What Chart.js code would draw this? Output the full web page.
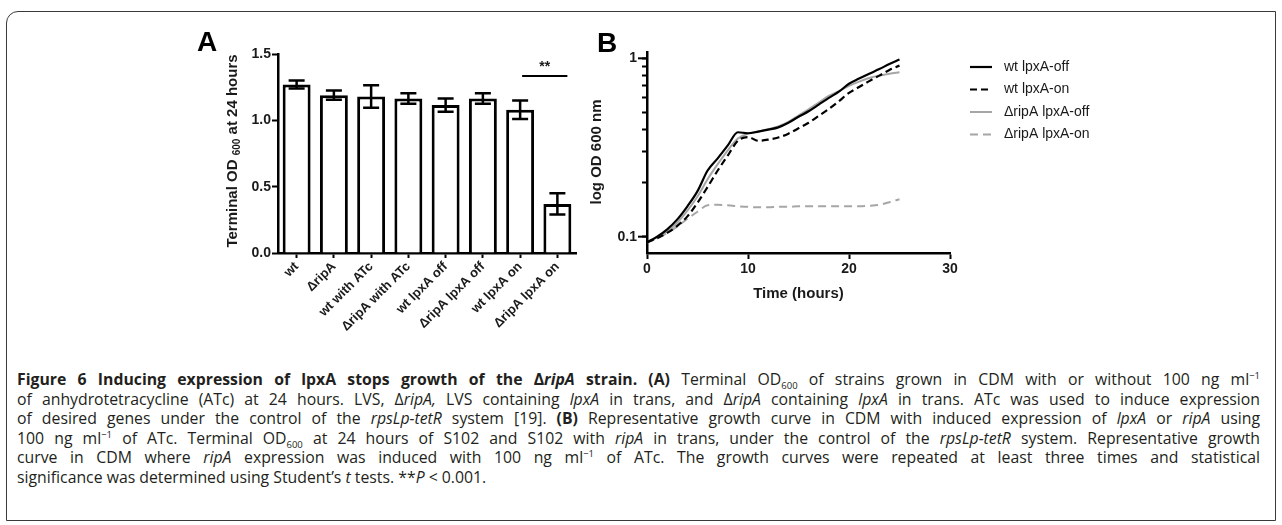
<!DOCTYPE html>
<html>
<head>
<meta charset="utf-8">
<script src="https://cdn.jsdelivr.net/npm/chart.js@4.4.1/dist/chart.umd.min.js"></script>
<style>
  html, body { margin: 0; padding: 0; background: #fff; }
  body { width: 1282px; height: 525px; position: relative; overflow: hidden; font-family: "Liberation Sans", Arial, sans-serif; }
  #frame { position: absolute; left: 6px; top: 11px; width: 1268px; height: 508px; border: 1.5px solid #3a3a3a; border-top-left-radius: 12px; }
  #boxA { position: absolute; left: 150px; top: 20px; width: 450px; height: 330px; }
  #boxB { position: absolute; left: 560px; top: 20px; width: 570px; height: 283px; }
  #caption { position: absolute; left: 17px; top: 370px; width: 1243px; font-family: "Open Sans", "Noto Sans", sans-serif; font-size: 15.8px; line-height: 19.5px; color: #231f20; }
  #caption div { white-space: nowrap; text-align: justify; text-align-last: justify; }
  #caption div.last { text-align-last: left; }
  #caption sup, #caption sub { font-size: 9.5px; line-height: 0; }
</style>
</head>
<body>
<div id="frame"></div>
<div id="boxA"><canvas id="chartA" width="450" height="330"></canvas></div>
<div id="boxB"><canvas id="chartB" width="570" height="283"></canvas></div>
<div id="caption">
  <div><b>Figure 6 Inducing expression of lpxA stops growth of the Δ<i>ripA</i> strain. (A)</b> Terminal OD<sub>600</sub> of strains grown in CDM with or without 100 ng ml<sup>−1</sup></div>
  <div>of anhydrotetracycline (ATc) at 24 hours. LVS, Δ<i>ripA,</i> LVS containing <i>lpxA</i> in trans, and Δ<i>ripA</i> containing <i>lpxA</i> in trans. ATc was used to induce expression</div>
  <div>of desired genes under the control of the <i>rpsLp-tetR</i> system [19]. <b>(B)</b> Representative growth curve in CDM with induced expression of <i>lpxA</i> or <i>ripA</i> using</div>
  <div>100 ng ml<sup>−1</sup> of ATc. Terminal OD<sub>600</sub> at 24 hours of S102 and S102 with <i>ripA</i> in trans, under the control of the <i>rpsLp-tetR</i> system. Representative growth</div>
  <div>curve in CDM where <i>ripA</i> expression was induced with 100 ng ml<sup>−1</sup> of ATc. The growth curves were repeated at least three times and statistical</div>
  <div class="last">significance was determined using Student’s <i>t</i> tests. **<i>P</i> &lt; 0.001.</div>
</div>
<script>
// panel A - terminal OD600 at 24 h
const strains = ['wt', 'ΔripA', 'wt with ATc', 'ΔripA with ATc', 'wt lpxA off', 'ΔripA lpxA off', 'wt lpxA on', 'ΔripA lpxA on'];
const odMeans = [1.27, 1.19, 1.18, 1.165, 1.115, 1.165, 1.08, 0.37];
const odErrors = [0.03, 0.035, 0.085, 0.04, 0.05, 0.04, 0.07, 0.08];
const odTicks = [0, 0.5, 1.0, 1.5];

// panel B - growth curves (log OD 600)
const hours = [0, 1, 2, 3, 4, 5, 6, 7, 8, 9, 10, 11, 12, 13, 14, 15, 16, 17, 18, 19, 20, 21, 22, 23, 24, 25];
const wtOff = [0.093, 0.100, 0.110, 0.125, 0.148, 0.180, 0.235, 0.275, 0.325, 0.385, 0.380, 0.388, 0.398, 0.410, 0.435, 0.470, 0.505, 0.550, 0.600, 0.650, 0.720, 0.770, 0.820, 0.870, 0.930, 0.985];
const wtOn = [0.093, 0.098, 0.105, 0.115, 0.130, 0.155, 0.190, 0.235, 0.285, 0.345, 0.362, 0.345, 0.350, 0.360, 0.378, 0.405, 0.435, 0.475, 0.520, 0.575, 0.640, 0.690, 0.745, 0.800, 0.860, 0.910];
const ripOff = [0.093, 0.099, 0.107, 0.120, 0.140, 0.168, 0.210, 0.255, 0.305, 0.355, 0.378, 0.388, 0.400, 0.415, 0.440, 0.478, 0.518, 0.565, 0.615, 0.655, 0.700, 0.740, 0.775, 0.800, 0.820, 0.835];
const ripOn = [0.093, 0.098, 0.105, 0.114, 0.126, 0.138, 0.150, 0.151, 0.150, 0.148, 0.147, 0.146, 0.146, 0.147, 0.147, 0.148, 0.148, 0.148, 0.148, 0.148, 0.148, 0.148, 0.149, 0.151, 0.156, 0.162];
const curveNames = ['wt lpxA-off', 'wt lpxA-on', 'ΔripA lpxA-off', 'ΔripA lpxA-on'];
const timeTicks = [0, 10, 20, 30];
const logTicks = [0.1, 0.2, 0.3, 0.4, 0.5, 0.6, 0.7, 0.8, 0.9, 1];

const FONT = '"Liberation Sans", Arial, sans-serif';
Chart.defaults.font.family = FONT;
Chart.defaults.color = '#1a1a1a';
Chart.defaults.animation = false;

function pts(ys) {
    return hours.map((h, i) => ({ x: h, y: ys[i] }));
}

// rotated y title, with optional subscript part
function drawYTitle(ctx, x, y, parts) {
    ctx.save();
    ctx.translate(x, y);
    ctx.rotate(-Math.PI / 2);
    ctx.fillStyle = '#1a1a1a';
    ctx.textBaseline = 'middle';
    let total = 0;
    parts.forEach(p => { ctx.font = 'bold ' + p.size + 'px ' + FONT; total += ctx.measureText(p.text).width; });
    let cx = -total / 2;
    parts.forEach(p => {
        ctx.font = 'bold ' + p.size + 'px ' + FONT;
        ctx.textAlign = 'left';
        ctx.fillText(p.text, cx, p.dy || 0);
        cx += ctx.measureText(p.text).width;
    });
    ctx.restore();
}

const panelA = {
    id: 'panelA',
    afterDatasetsDraw(chart) {
        const ctx = chart.ctx;
        const xs = chart.scales.x, ys = chart.scales.y;
        ctx.save();
        ctx.strokeStyle = '#000';
        ctx.lineWidth = 2.5;
        odMeans.forEach((m, i) => {
            const x = xs.getPixelForValue(i);
            const top = ys.getPixelForValue(m + odErrors[i]);
            const bot = ys.getPixelForValue(m - odErrors[i]);
            ctx.beginPath();
            ctx.moveTo(x, top); ctx.lineTo(x, bot);
            ctx.moveTo(x - 8, top); ctx.lineTo(x + 8, top);
            ctx.moveTo(x - 8, bot); ctx.lineTo(x + 8, bot);
            ctx.stroke();
        });
        // significance bar between wt lpxA on and ΔripA lpxA on
        const y1 = ys.getPixelForValue(1.335);
        ctx.lineWidth = 2;
        ctx.beginPath();
        ctx.moveTo(xs.getPixelForValue(6) + 2, y1);
        ctx.lineTo(xs.getPixelForValue(7) + 10, y1);
        ctx.stroke();
        ctx.fillStyle = '#1a1a1a';
        ctx.font = 'bold 14px ' + FONT;
        ctx.textAlign = 'center';
        ctx.textBaseline = 'alphabetic';
        ctx.fillText('**', (xs.getPixelForValue(6) + xs.getPixelForValue(7)) / 2 + 6, y1 - 5);
        ctx.restore();
    },
    afterDraw(chart) {
        const ctx = chart.ctx;
        ctx.save();
        ctx.fillStyle = '#000';
        ctx.font = 'bold 28px ' + FONT;
        ctx.fillText('A', 47, 31);
        ctx.restore();
        drawYTitle(ctx, 83, 131, [
            { text: 'Terminal OD ', size: 15 },
            { text: '600', size: 10, dy: 4 },
            { text: ' at 24 hours', size: 15 }
        ]);
    }
};

new Chart(document.getElementById('chartA'), {
    type: 'bar',
    data: {
        labels: strains,
        datasets: [{
            data: odMeans,
            backgroundColor: '#fff',
            borderColor: '#000',
            borderWidth: 3,
            borderSkipped: 'bottom',
            barPercentage: 0.75,
            categoryPercentage: 1
        }]
    },
    options: {
        responsive: false,
        layout: { padding: { top: 34, right: 24, left: 0, bottom: 0 } },
        plugins: { legend: { display: false }, tooltip: { enabled: false } },
        scales: {
            x: {
                afterFit: s => { s.height = 97; },
                grid: { offset: false, drawOnChartArea: false, tickLength: 5, tickColor: '#000', tickWidth: 2 },
                border: { color: '#000', width: 2.5 },
                ticks: { minRotation: 45, maxRotation: 45, padding: 1, font: { size: 13, weight: 'bold' } }
            },
            y: {
                min: 0, max: 1.5,
                afterFit: s => { s.width = 128; },
                afterBuildTicks: s => { s.ticks = odTicks.map(v => ({ value: v })); },
                grid: { drawOnChartArea: false, tickLength: 6, tickColor: '#000', tickWidth: 2 },
                border: { color: '#000', width: 2.5 },
                ticks: { padding: 1, font: { size: 14, weight: 'bold' }, callback: v => v.toFixed(1) }
            }
        }
    },
    plugins: [panelA]
});

const panelB = {
    id: 'panelB',
    afterDraw(chart) {
        const ctx = chart.ctx;
        const ys = chart.scales.y;
        const left = chart.chartArea.left;
        ctx.save();
        // longer ticks for decades
        ctx.strokeStyle = '#000';
        ctx.lineWidth = 2;
        [0.1, 1].forEach(v => {
            const y = ys.getPixelForValue(v);
            ctx.beginPath(); ctx.moveTo(left - 9, y); ctx.lineTo(left, y); ctx.stroke();
        });
        ctx.fillStyle = '#000';
        ctx.font = 'bold 28px ' + FONT;
        ctx.fillText('B', 37, 32);
        // legend
        ctx.font = '14px ' + FONT;
        ctx.textBaseline = 'middle';
        chart.data.datasets.forEach((ds, i) => {
            const y = 47 + i * 22.5;
            ctx.strokeStyle = ds.borderColor;
            ctx.lineWidth = ds.borderWidth;
            ctx.setLineDash(ds.borderDash || []);
            ctx.beginPath(); ctx.moveTo(410, y); ctx.lineTo(432, y); ctx.stroke();
            ctx.setLineDash([]);
            ctx.fillStyle = '#1a1a1a';
            ctx.fillText(ds.label, 444, y);
        });
        ctx.restore();
        drawYTitle(ctx, 37, 132, [{ text: 'log OD 600 nm', size: 15 }]);
    }
};

const lineBase = { pointRadius: 0, fill: false, cubicInterpolationMode: 'monotone' };

new Chart(document.getElementById('chartB'), {
    type: 'line',
    data: {
        datasets: [
            Object.assign({ label: curveNames[0], data: pts(wtOff), borderColor: '#000', borderWidth: 2.2 }, lineBase),
            Object.assign({ label: curveNames[1], data: pts(wtOn), borderColor: '#000', borderWidth: 2.2, borderDash: [7, 4] }, lineBase),
            Object.assign({ label: curveNames[2], data: pts(ripOff), borderColor: '#a6a6a6', borderWidth: 2 }, lineBase),
            Object.assign({ label: curveNames[3], data: pts(ripOn), borderColor: '#a6a6a6', borderWidth: 2, borderDash: [8, 5] }, lineBase)
        ]
    },
    options: {
        responsive: false,
        layout: { padding: { top: 32, right: 180, left: 0, bottom: 0 } },
        plugins: { legend: { display: false }, tooltip: { enabled: false } },
        scales: {
            x: {
                type: 'linear', min: 0, max: 30,
                afterFit: s => { s.height = 50; },
                afterBuildTicks: s => { s.ticks = timeTicks.map(v => ({ value: v })); },
                grid: { drawOnChartArea: false, tickLength: 6, tickColor: '#000', tickWidth: 2 },
                border: { color: '#000', width: 2.5 },
                ticks: { padding: 2, font: { size: 14, weight: 'bold' } },
                title: { display: true, text: 'Time (hours)', font: { size: 15, weight: 'bold' }, padding: { top: 4, bottom: 0 } }
            },
            y: {
                type: 'logarithmic', min: 0.081, max: 1.085,
                afterFit: s => { s.width = 87; },
                afterBuildTicks: s => { s.ticks = logTicks.map(v => ({ value: v })); },
                grid: { drawOnChartArea: false, tickLength: 5, tickColor: '#000', tickWidth: 2 },
                border: { color: '#000', width: 2.5 },
                ticks: {
                    padding: 5, font: { size: 14, weight: 'bold' },
                    callback: v => Math.abs(v - 0.1) < 1e-9 ? '0.1' : (Math.abs(v - 1) < 1e-9 ? '1' : '')
                }
            }
        }
    },
    plugins: [panelB]
});
</script>
</body>
</html>
